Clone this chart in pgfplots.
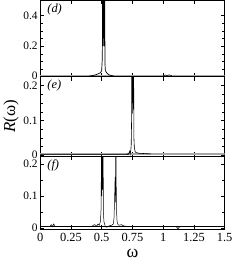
\documentclass[border=0pt]{standalone}
\usepackage{pgfplots}
\pgfplotsset{compat=1.18}
\usepackage{fontspec}
\setmainfont{Liberation Serif}
\begin{document}
\begin{tikzpicture}
\pgfplotsset{
  every axis/.append style={
    scale only axis, width=186pt,
    xmin=0, xmax=1.5,
    xtick={0,0.25,0.5,0.75,1,1.25,1.5},
    tick align=inside, major tick length=4pt, minor tick length=2.5pt,
    axis line style={line width=0.6pt},
    tick style={line width=0.5pt, black},
    xticklabel style={font=\fontsize{12.5}{13}\selectfont},
    yticklabel style={font=\fontsize{11.5}{12}\selectfont, xshift=1pt},
    /pgf/number format/assume math mode=true,
    clip=true,
  },
  shiftlabels/.style={
    yticklabel={\ifdim\tick pt>0.15pt\raisebox{-2pt}{\pgfmathprintnumber{\tick}}\else\ifdim\tick pt<0.01pt\raisebox{1.5pt}{\pgfmathprintnumber{\tick}}\else\pgfmathprintnumber{\tick}\fi\fi},
  },
}
% panel d
\begin{axis}[name=d, at={(0,0)}, anchor=north west, height=77pt,
  ymin=0, ymax=0.5, ytick={0,0.2,0.4}, minor y tick num=3,
  xticklabels={},
  yticklabel={\ifdim\tick pt<0.01pt\raisebox{1.5pt}{\pgfmathprintnumber{\tick}}\else\pgfmathprintnumber{\tick}\fi}]
\addplot[gray!70, line width=1.6pt] coordinates {(0,0.006) (1.5,0.006)};
\addplot[black, line width=0.7pt] coordinates {
(0.40,0.004)(0.43,0.008)(0.45,0.012)(0.47,0.018)(0.49,0.026)(0.50,0.04)
(0.505,0.12)(0.508,0.60)(0.511,0.20)(0.513,0.60)(0.516,0.25)(0.518,0.60)
(0.521,0.20)(0.524,0.60)(0.527,0.08)(0.53,0.04)(0.54,0.026)(0.55,0.018)
(0.56,0.012)(0.575,0.008)(0.60,0.004)};
\addplot[black, line width=0.5pt] coordinates {
(1.00,0.006)(1.02,0.011)(1.03,0.007)(1.05,0.012)(1.07,0.006)};
\node[anchor=north west, font=\fontsize{12.5}{13}\selectfont\itshape] at (axis cs:0.03,0.5) {(d)};
\end{axis}
% panel e
\begin{axis}[name=e, at={(d.south west)}, anchor=north west, height=80pt,
  ymin=-0.002, ymax=0.226, ytick={0,0.1,0.2}, minor y tick num=3,
  xticklabels={}, shiftlabels,
  ylabel={\fontsize{17}{18}\selectfont\textit{R}(ω)}, ylabel style={yshift=-2pt}]
\addplot[gray!70, line width=1.4pt] coordinates {(0,0.004) (1.5,0.004)};
\addplot[black!80, line width=1.0pt] coordinates {(0,0.003) (0.72,0.003)};
\addplot[black, line width=0.6pt] coordinates {
(0.70,0.003)(0.72,0.005)(0.728,0.012)(0.732,0.004)(0.737,0.015)(0.740,0.03)
(0.743,0.10)(0.745,0.30)(0.748,0.15)(0.750,0.30)(0.752,0.12)(0.754,0.30)
(0.757,0.16)(0.759,0.30)(0.762,0.05)(0.765,0.025)(0.768,0.018)(0.772,0.010)
(0.78,0.008)(0.80,0.006)(0.85,0.005)(0.90,0.004)};
\node[anchor=north west, font=\fontsize{12.5}{13}\selectfont\itshape] at (axis cs:0.03,0.226) {(e)};
\end{axis}
% panel f
\begin{axis}[name=f, at={(e.south west)}, anchor=north west, height=74pt,
  ymin=-0.005, ymax=0.226, ytick={0,0.1,0.2}, minor y tick num=1,
  xticklabels={0,0.25,0.5,0.75,1,1.25,1.5},
  yticklabel={\ifdim\tick pt>0.15pt\raisebox{-2pt}{\pgfmathprintnumber{\tick}}\else\pgfmathprintnumber{\tick}\fi},
  xlabel={\fontsize{18}{18}\selectfont ω}, xlabel style={yshift=-1pt}]
\addplot[black, line width=0.8pt] coordinates {(0,0.005) (1.5,0.005)};
\addplot[black, line width=0.5pt] coordinates {
(0.08,0.005)(0.09,0.010)(0.10,0.004)(0.11,0.012)(0.12,0.005)
(0.42,0.005)(0.44,0.010)(0.46,0.006)(0.47,0.012)(0.48,0.008)(0.49,0.02)
(0.495,0.06)(0.499,0.30)(0.502,0.10)(0.505,0.30)(0.508,0.12)(0.511,0.30)
(0.514,0.05)(0.518,0.02)(0.525,0.010)(0.53,0.004)(0.54,0.002)(0.56,0.006)
(0.58,0.008)(0.595,0.012)(0.60,0.03)(0.605,0.09)(0.609,0.16)(0.612,0.08)
(0.615,0.30)(0.618,0.14)(0.621,0.05)(0.625,0.02)(0.63,0.012)(0.64,0.008)
(0.66,0.010)(0.68,0.006)(0.70,0.005)
(1.10,0.005)(1.115,0.0)(1.12,-0.004)(1.125,0.0)(1.14,0.005)};
\node[anchor=north west, font=\fontsize{12.5}{13}\selectfont\itshape] at (axis cs:0.03,0.226) {(f)};
\end{axis}
\end{tikzpicture}
\end{document}
